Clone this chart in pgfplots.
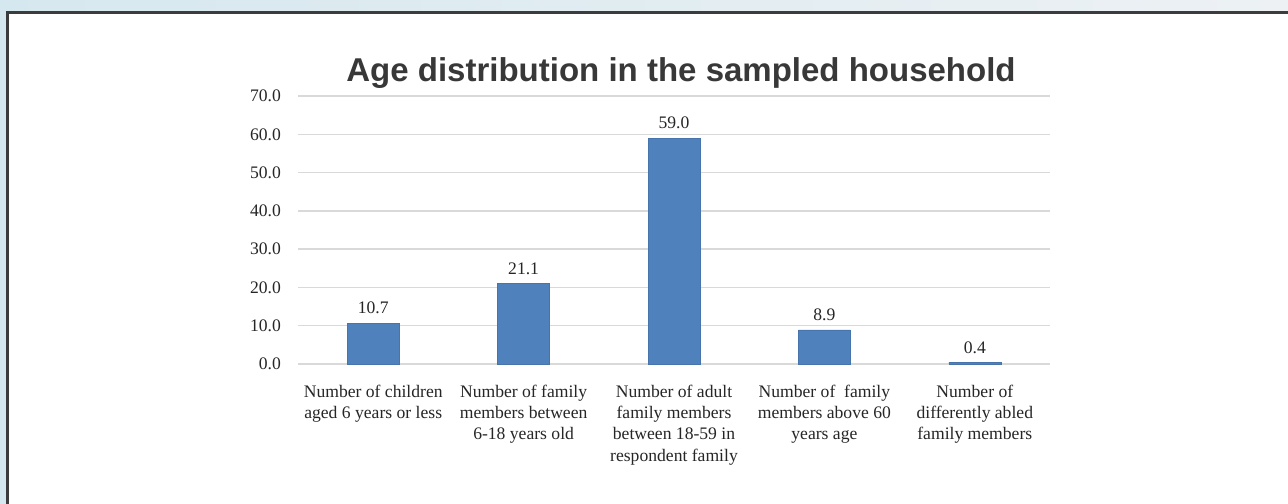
\documentclass[border=0pt]{standalone}
\usepackage{fontspec}
\setmainfont{Liberation Serif}
\newfontfamily\titlefont{Liberation Sans}
\usepackage{pgfplots}
\pgfplotsset{compat=1.18}
\definecolor{barblue}{HTML}{4F81BD}
\definecolor{gridgray}{HTML}{D9D9D9}
\definecolor{framegray}{HTML}{3C3C3C}
\definecolor{textgray}{HTML}{262626}
\definecolor{titlegray}{HTML}{383838}
\definecolor{bgleft}{HTML}{D6E8EF}
\definecolor{bgright}{HTML}{EDF1F4}
\begin{document}
\begin{tikzpicture}
% page background and framed white panel
\useasboundingbox (0pt,0pt) rectangle (644pt,251.5pt);
\shade[left color=bgleft, right color=bgright] (0pt,0pt) rectangle (644pt,251.5pt);
\fill[white] (3.75pt,-2pt) rectangle (646pt,245.25pt);
\draw[line width=1.5pt, framegray] (3.75pt,-4pt) -- (3.75pt,245.25pt) -- (648pt,245.25pt);
\begin{axis}[
  at={(149pt,69.5pt)}, anchor=south west,
  scale only axis, width=376pt, height=134pt,
  ybar, bar width=26pt,
  xmin=-0.5, xmax=4.5, ymin=0, ymax=70,
  ytick={0,10,...,70},
  xtick=data,
  xticklabels={
    {Number of children\\aged 6 years or less},
    {Number of family\\members between\\6-18 years old},
    {Number of adult\\family members\\between 18-59 in\\respondent family},
    {Number of \ family\\members above 60\\years age},
    {Number of\\differently abled\\family members}},
  axis line style={draw=none},
  major tick length=0pt,
  ymajorgrids, grid style={gridgray, line width=0.75pt},
  y tick label style={font=\fontsize{8.8}{10.5}\selectfont, text=textgray, xshift=-5pt,
    /pgf/number format/.cd, fixed, zerofill, precision=1, assume math mode=true},
  x tick label style={font=\fontsize{8.8}{10.6}\selectfont, text=textgray, align=center, anchor=north, yshift=-7pt},
  nodes near coords,
  nodes near coords style={font=\fontsize{8.8}{10.5}\selectfont, text=textgray, yshift=1pt,
    /pgf/number format/.cd, fixed, zerofill, precision=1, assume math mode=true},
  title={\titlefont\bfseries Age distribution in the sampled household},
  title style={font=\fontsize{16.5}{20}\selectfont, text=titlegray, anchor=base, at={(0.5,1)}, yshift=1.5pt, xshift=3.5pt},
  clip=false,
]
\addplot[fill=barblue, draw=barblue!90!black, line width=0.3pt] coordinates {(0,10.7) (1,21.1) (2,59.0) (3,8.9) (4,0.4)};
\end{axis}
\end{tikzpicture}
\end{document}
